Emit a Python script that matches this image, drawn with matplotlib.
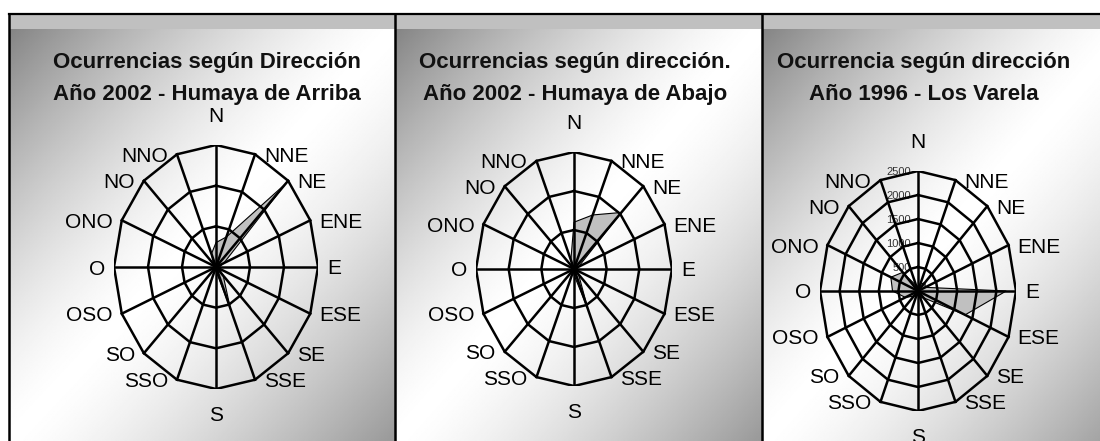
import matplotlib
matplotlib.use('Agg')
import matplotlib.pyplot as plt
import numpy as np

plt.rcParams['font.family'] = ['Liberation Sans', 'DejaVu Sans']

# direcciones del viento (sentido horario desde el norte)
DIRECCIONES = ['N', 'NNE', 'NE', 'ENE', 'E', 'ESE', 'SE', 'SSE',
               'S', 'SSO', 'SO', 'OSO', 'O', 'ONO', 'NO', 'NNO']

# ocurrencias
ARRIBA_2002 = [6, 8, 29, 2.5, 1, 1, 3, 11, 1, 0.5, 0.3, 0.3, 0.5, 0.5, 1, 3.5]
ABAJO_2002 = [12, 15, 20.5, 1.5, 1, 1, 2, 11, 1.5, 0.5, 0.3, 0.3, 0.3, 0.3, 0.5, 2.5]
VARELA_1996 = [100, 150, 250, 200, 2250, 1300, 200, 150,
               100, 100, 150, 350, 650, 750, 550, 120]

TITULOS = [
    ('Ocurrencias según Dirección', 'Año 2002 - Humaya de Arriba'),
    ('Ocurrencias según dirección.', 'Año 2002 - Humaya de Abajo'),
    ('Ocurrencia según dirección', 'Año 1996 - Los Varela'),
]
ESCALA_MAX = [30, 30, 2500]
ESCALA_PASO = [10, 10, 500]
MOSTRAR_TICKS = [False, False, True]

W, H = 1100, 441
fig = plt.figure(figsize=(11, 4.41), dpi=100)

# fondo: paneles con degradado diagonal gris-blanco-gris
bg = fig.add_axes([0, 0, 1, 1])
bg.set_xlim(0, W)
bg.set_ylim(H, 0)
bg.axis('off')

paneles = [(9, 395), (395, 762), (762, 1129)]
for x0, x1 in paneles:
    u = np.linspace(0, 1, 300)
    v = np.linspace(0, 1, 300)
    t = (u[None, :] + v[:, None]) / 2
    oscuro = np.where(t < 0.5, 0.52, 0.60)
    img = 1 - (1 - oscuro) * np.abs(2 * t - 1) ** 1.4
    bg.imshow(img, cmap='gray', vmin=0, vmax=1, extent=(x0, x1, H, 29),
              aspect='auto', interpolation='bilinear')
    bg.fill_between([x0, x1], 14, 29, color='#c0c0c0', lw=0)
bg.plot([9, W], [14, 14], color='black', lw=1.6)
for x in (9, 395, 762):
    bg.plot([x, x], [14, H], color='black', lw=1.8)
bg.set_xlim(0, W)
bg.set_ylim(H, 0)


def radar(cx, cy, rx, ry, valores, vmax, paso, ticks):
    ax = fig.add_axes([(cx - rx) / W, (H - cy - ry) / H, 2 * rx / W, 2 * ry / H])
    ax.set_xlim(-vmax, vmax)
    ax.set_ylim(-vmax, vmax)
    ax.axis('off')
    ax.patch.set_alpha(0)

    ang = np.arange(len(DIRECCIONES)) * 2 * np.pi / len(DIRECCIONES)
    s, c = np.sin(ang), np.cos(ang)
    vals = np.array(valores, dtype=float)
    ax.fill(np.append(vals * s, vals[0] * s[0]), np.append(vals * c, vals[0] * c[0]),
            facecolor='#c0c0c0', edgecolor='black', lw=0.8, zorder=2)

    for r in np.arange(paso, vmax + paso / 2, paso):
        ax.plot(np.append(r * s, r * s[0]), np.append(r * c, r * c[0]),
                color='black', lw=1.8, zorder=3, solid_joinstyle='miter')
    for si, ci in zip(s, c):
        ax.plot([0, vmax * si], [0, vmax * ci], color='black', lw=1.8, zorder=3)

    for nombre, si, ci in zip(DIRECCIONES, s, c):
        if si > 0.1:
            ha, dx = 'left', 9
        elif si < -0.1:
            ha, dx = 'right', -9
        else:
            ha, dx = 'center', 0
        if ci > 0.95:
            va, dy = 'bottom', 19
        elif ci < -0.95:
            va, dy = 'top', -17
        else:
            va, dy = 'center_baseline', 0
        ax.annotate(nombre, (vmax * si, vmax * ci), xytext=(dx, dy),
                    textcoords='offset pixels', ha=ha, va=va, fontsize=15,
                    annotation_clip=False)

    if ticks:
        for r in np.arange(0, vmax + paso / 2, paso):
            ax.annotate(f'{r:.0f}', (0, r), xytext=(-7, 0), textcoords='offset pixels',
                        ha='right', va='center_baseline', fontsize=8, color='#333333',
                        zorder=1, annotation_clip=False)
    return ax


centros = [(216, 267, 102, 122), (574, 269, 98, 117), (918, 291, 98, 120)]
series = [ARRIBA_2002, ABAJO_2002, VARELA_1996]
titulo_x = [207, 575, 924]

for i, (cx, cy, rx, ry) in enumerate(centros):
    radar(cx, cy, rx, ry, series[i], ESCALA_MAX[i], ESCALA_PASO[i], MOSTRAR_TICKS[i])
    l1, l2 = TITULOS[i]
    fig.text(titulo_x[i] / W, (H - 68) / H, l1, ha='center', va='baseline',
             fontsize=16, fontweight='bold', color='#111111')
    fig.text(titulo_x[i] / W, (H - 100) / H, l2, ha='center', va='baseline',
             fontsize=16, fontweight='bold', color='#111111')

fig.savefig('out.png', dpi=100)
